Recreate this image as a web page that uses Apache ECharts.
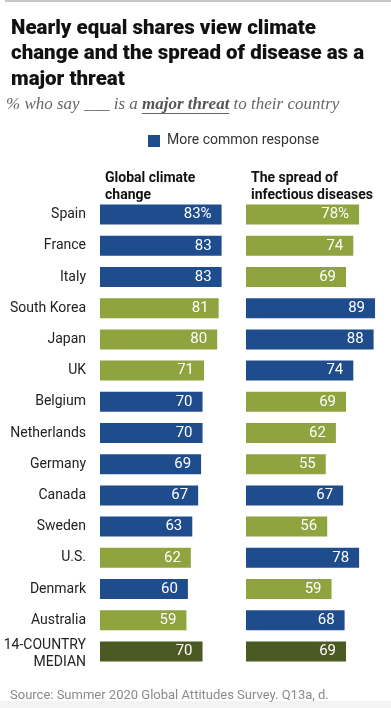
<!DOCTYPE html>
<html><head><meta charset="utf-8">
<script src="https://cdn.jsdelivr.net/npm/echarts@6/dist/echarts.min.js"></script>
<style>html,body{margin:0;padding:0;background:#fff}#c{width:391px;height:708px}</style>
</head><body><div id="c"></div>
<script>
const countries = ['Spain','France','Italy','South Korea','Japan','UK','Belgium','Netherlands','Germany','Canada','Sweden','U.S.','Denmark','Australia','14-COUNTRY\nMEDIAN'];
const climate = [83,83,83,81,80,71,70,70,69,67,63,62,60,59,70];
const disease = [78,74,69,89,88,74,69,62,55,67,56,78,59,68,69];
const medianIndex = 14;

const BLUE = '#1f4c8c', GREEN = '#8fa33f', DARK = '#4b5a23';
function colorFor(i, mine, other) {
  if (i === medianIndex) return DARK;
  return mine >= other ? BLUE : GREEN;
}
const climateData = climate.map((v,i)=>({value:v,itemStyle:{color:colorFor(i,v,disease[i])}}));
const diseaseData = disease.map((v,i)=>({value:v,itemStyle:{color:colorFor(i,v,climate[i])}}));

const FONT = 'Roboto';
const SERIF = '"Liberation Serif"';

// subtitle pieces measured so the underline sits under the bold words
const subA = '% who say ___ is a ', subB = 'major threat', subC = ' to their country';
const cv = document.createElement('canvas').getContext('2d');
let subSize = 16;
function w(t, bold, size){ cv.font = 'italic ' + (bold?'bold ':'') + size + 'px ' + SERIF; return cv.measureText(t).width; }
for (let s = 13; s <= 19; s += 0.25) { if (w(subA,false,s)+w(subB,true,s)+w(subC,false,s) <= 335) subSize = s; }
const wA = w(subA,false,subSize), wB = w(subB,true,subSize);
const SUBX = 6, SUBMID = 105;

const chart = echarts.init(document.getElementById('c'), null, {renderer:'canvas'});
const labelCfg = {
  show:true, position:'insideRight', distance:10, color:'#fff', fontFamily:FONT, fontSize:15,
  formatter: p => p.dataIndex === 0 ? p.value + '%' : String(p.value)
};
chart.setOption({
  animation:false,
  title:[{
    text:'Nearly equal shares view climate\nchange and the spread of disease as a\nmajor threat',
    left:6, top:11,
    textStyle:{fontFamily:FONT, fontWeight:900, fontSize:20.5, color:'#111', lineHeight:25.5}
  },{
    text:'Global climate\nchange', left:100, top:165,
    textStyle:{fontFamily:FONT, fontWeight:'bold', fontSize:14, color:'#111', lineHeight:17}
  },{
    text:'The spread of\ninfectious diseases', left:246, top:165,
    textStyle:{fontFamily:FONT, fontWeight:'bold', fontSize:14, color:'#111', lineHeight:17}
  },{
    text:'Source: Summer 2020 Global Attitudes Survey. Q13a, d.', left:5, top:684,
    textStyle:{fontFamily:FONT, fontWeight:'normal', fontSize:13, color:'#8a8a8a'}
  }],
  graphic:[
    {type:'line', shape:{x1:5,y1:1,x2:391,y2:1}, style:{stroke:'#c8c8c8', lineWidth:2}},
    {type:'text', x:SUBX, y:SUBMID, style:{text:subA, font:'italic ' + subSize + 'px ' + SERIF, fill:'#666', verticalAlign:'middle'}},
    {type:'text', x:SUBX+wA, y:SUBMID, style:{text:subB, font:'italic bold ' + subSize + 'px ' + SERIF, fill:'#555', verticalAlign:'middle'}},
    {type:'text', x:SUBX+wA+wB, y:SUBMID, style:{text:subC, font:'italic ' + subSize + 'px ' + SERIF, fill:'#666', verticalAlign:'middle'}},
    {type:'line', shape:{x1:SUBX+wA, y1:SUBMID+8.5, x2:SUBX+wA+wB, y2:SUBMID+8.5}, style:{stroke:'#666', lineWidth:1}},
    {type:'rect', shape:{x:148,y:135,width:12,height:12}, style:{fill:BLUE}},
    {type:'text', left:167, top:133, style:{text:'More common response', fontFamily:FONT, fontSize:14, fill:'#333'}},
    {type:'rect', shape:{x:0,y:701,width:391,height:7}, style:{fill:'#f3f3f3'}}
  ],
  grid:[
    {left:100, top:199, width:146.5, height:468},
    {left:246, top:199, width:146, height:468}
  ],
  xAxis:[
    {gridIndex:0, type:'value', min:0, max:100, show:false},
    {gridIndex:1, type:'value', min:0, max:100, show:false}
  ],
  yAxis:[
    {gridIndex:0, type:'category', data:countries, inverse:true,
     axisLine:{show:false}, axisTick:{show:false},
     axisLabel:{margin:14, fontFamily:FONT, fontSize:14, color:'#222', align:'right', lineHeight:17,
       formatter:(v,i)=> i === medianIndex ? '{m|' + v + '}' : v,
       rich:{m:{fontFamily:FONT, fontSize:14, color:'#222', align:'right', lineHeight:17, padding:[6,0,0,0]}}}},
    {gridIndex:1, type:'category', data:countries, inverse:true, show:false}
  ],
  series:[
    {type:'bar', xAxisIndex:0, yAxisIndex:0, data:climateData, barWidth:20, label:labelCfg},
    {type:'bar', xAxisIndex:1, yAxisIndex:1, data:diseaseData, barWidth:20, label:labelCfg}
  ]
});
</script></body></html>
